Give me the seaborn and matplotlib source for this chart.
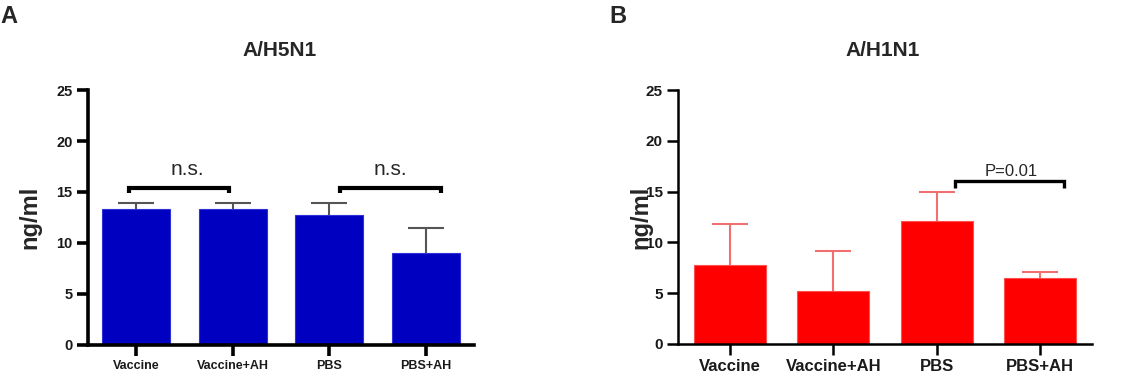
import numpy as np
import pandas as pd
import seaborn as sns
import matplotlib.pyplot as plt

groups = ["Vaccine", "Vaccine+AH", "PBS", "PBS+AH"]

h5n1_mean = [13.3, 13.3, 12.7, 9.0]
h5n1_sd = [0.6, 0.65, 1.2, 2.45]

h1n1_mean = [7.75, 5.25, 12.1, 6.45]
h1n1_sd = [4.05, 3.95, 2.85, 0.65]

yticks = [0, 5, 10, 15, 20, 25]

sns.set_theme(style="ticks")
plt.rcParams["font.family"] = ["Liberation Sans", "DejaVu Sans"]

fig = plt.figure(figsize=(11.31, 3.84), dpi=100)
ax_a = fig.add_axes([0.0778, 0.1016, 0.3413, 0.664])
ax_b = fig.add_axes([0.5995, 0.1042, 0.366, 0.6614])

df_a = pd.DataFrame({"group": groups, "value": h5n1_mean})
df_b = pd.DataFrame({"group": groups, "value": h1n1_mean})

sns.barplot(data=df_a, x="group", y="value", color="#0000c0", saturation=1,
            width=0.7, errorbar=None, ax=ax_a, edgecolor="#3030d8", linewidth=0.8)
sns.barplot(data=df_b, x="group", y="value", color="#ff0000", saturation=1,
            width=0.7, errorbar=None, ax=ax_b, edgecolor="#ff5050", linewidth=0.8)

# upper-only SD bars (hide the lower cap that would sit on the bar top)
pos = ax_a.get_xticks()
for ax, mean, sd, col in [(ax_a, h5n1_mean, h5n1_sd, "#555555"),
                          (ax_b, h1n1_mean, h1n1_sd, "#f07070")]:
    eb = ax.errorbar(pos, mean, yerr=[np.zeros(4), sd], fmt="none",
                     ecolor=col, elinewidth=1.5, capsize=13, capthick=1.5, zorder=1)
    eb[1][0].set_visible(False)


def bracket(ax, x0, x1, y, leg, label, tx, ty, size, lw):
    ax.plot([x0, x0, x1, x1], [y - leg, y, y, y - leg], color="black",
            lw=lw, solid_capstyle="butt", solid_joinstyle="miter", clip_on=False)
    ax.text(tx, ty, label, ha="center", va="center", fontsize=size)


bracket(ax_a, -0.08, 0.96, 15.4, 0.5, "n.s.", 0.53, 17.2, 15, 3)
bracket(ax_a, 2.11, 3.16, 15.4, 0.5, "n.s.", 2.63, 17.2, 15, 3)
bracket(ax_b, 2.18, 3.23, 16.0, 0.65, "P=0.01", 2.72, 16.95, 12, 2.4)

for ax, lw, xsize, ysize in [(ax_a, 2.6, 9, 10.5), (ax_b, 1.8, 12, 11)]:
    ax.set_xlim(-0.5, 3.5)
    ax.set_ylim(0, 25)
    ax.set_yticks(yticks)
    ax.set_xlabel("")
    ax.set_ylabel("")
    sns.despine(ax=ax)
    for s in ["left", "bottom"]:
        ax.spines[s].set_linewidth(lw)
        ax.spines[s].set_color("black")
    ax.tick_params(axis="both", length=8, width=lw, color="black", pad=3)
    ax.tick_params(axis="x", labelsize=xsize)
    ax.tick_params(axis="y", labelsize=ysize)
    for t in ax.get_xticklabels() + ax.get_yticklabels():
        t.set_fontweight("bold")
        t.set_color("#1a1a1a")

fig.text(0.2475, 0.868, "A/H5N1", ha="center", va="center", fontsize=15, fontweight="bold")
fig.text(0.7807, 0.868, "A/H1N1", ha="center", va="center", fontsize=15, fontweight="bold")

fig.text(0.0265, 0.434, "ng/ml", rotation=90, ha="center", va="center",
         fontsize=17, fontweight="bold")
fig.text(0.567, 0.434, "ng/ml", rotation=90, ha="center", va="center",
         fontsize=17, fontweight="bold")

fig.text(0.0, 0.958, "A", ha="left", va="center", fontsize=17, fontweight="bold")
fig.text(0.5385, 0.958, "B", ha="left", va="center", fontsize=17, fontweight="bold")

fig.savefig("out.png", dpi=100)
